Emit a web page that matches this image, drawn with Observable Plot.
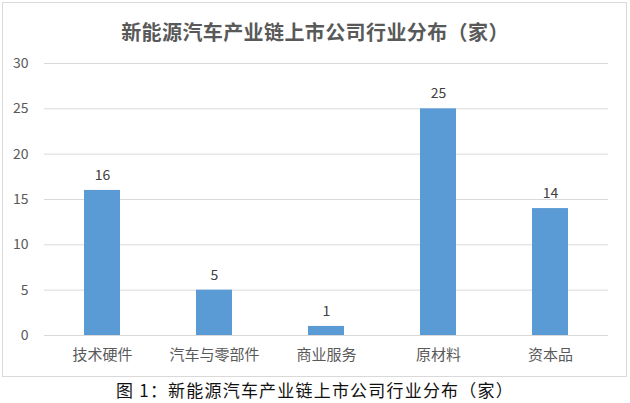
<!DOCTYPE html>
<html><head><meta charset="utf-8">
<script src="https://cdn.jsdelivr.net/npm/d3@7"></script>
<script src="https://cdn.jsdelivr.net/npm/@observablehq/plot@0.6"></script>
<style>
body{margin:0;background:#fff;font-family:"Noto Sans CJK SC","Noto Sans",sans-serif;}
#wrap{position:relative;width:630px;height:403px;overflow:hidden;}
#box{position:absolute;left:2px;top:2px;width:623px;height:373px;border:1px solid #d9d9d9;}
#title{position:absolute;left:0;top:18px;width:630px;text-align:center;font-size:20px;font-weight:bold;color:#595959;line-height:28px;letter-spacing:0.4px;}
#chart{position:absolute;left:0;top:45px;}
#caption{position:absolute;left:0;top:380px;width:630px;text-align:center;font-size:17px;color:#111;line-height:20px;letter-spacing:1.2px;}
</style></head>
<body>
<div id="wrap">
<div id="box"></div>
<div id="title">新能源汽车产业链上市公司行业分布（家）</div>
<div id="chart"></div>
<div id="caption">图 1：新能源汽车产业链上市公司行业分布（家）</div>
</div>
<script>
const categories = ["技术硬件","汽车与零部件","商业服务","原材料","资本品"];
const counts = [16,5,1,25,14];
const yTicks = [0,5,10,15,20,25,30];
const data = categories.map((c,i)=>({category:c,count:counts[i]}));

const chart = Plot.plot({
  width:630, height:330,
  marginLeft:44, marginRight:22, marginTop:18, marginBottom:40,
  style:{fontFamily:'"Noto Sans CJK SC","Noto Sans",sans-serif',background:"transparent"},
  x:{domain:categories, paddingInner:0.68, paddingOuter:0.34, label:null},
  y:{domain:[0,30], label:null},
  marks:[
    Plot.gridY(yTicks,{stroke:"#d9d9d9",strokeOpacity:1,strokeWidth:1}),
    Plot.barY(data,{x:"category",y:"count",fill:"#5b9bd5"}),
    Plot.text(data,{x:"category",y:"count",text:d=>String(d.count),dy:-15,fill:"#404040",fontSize:14}),
    Plot.axisY({ticks:yTicks,tickSize:0,tickPadding:16,fontSize:14,color:"#595959",label:null}),
    Plot.axisX({tickSize:0,tickPadding:14,fontSize:15,color:"#595959",label:null})
  ]
});
document.getElementById("chart").appendChild(chart);
</script>
</body></html>
